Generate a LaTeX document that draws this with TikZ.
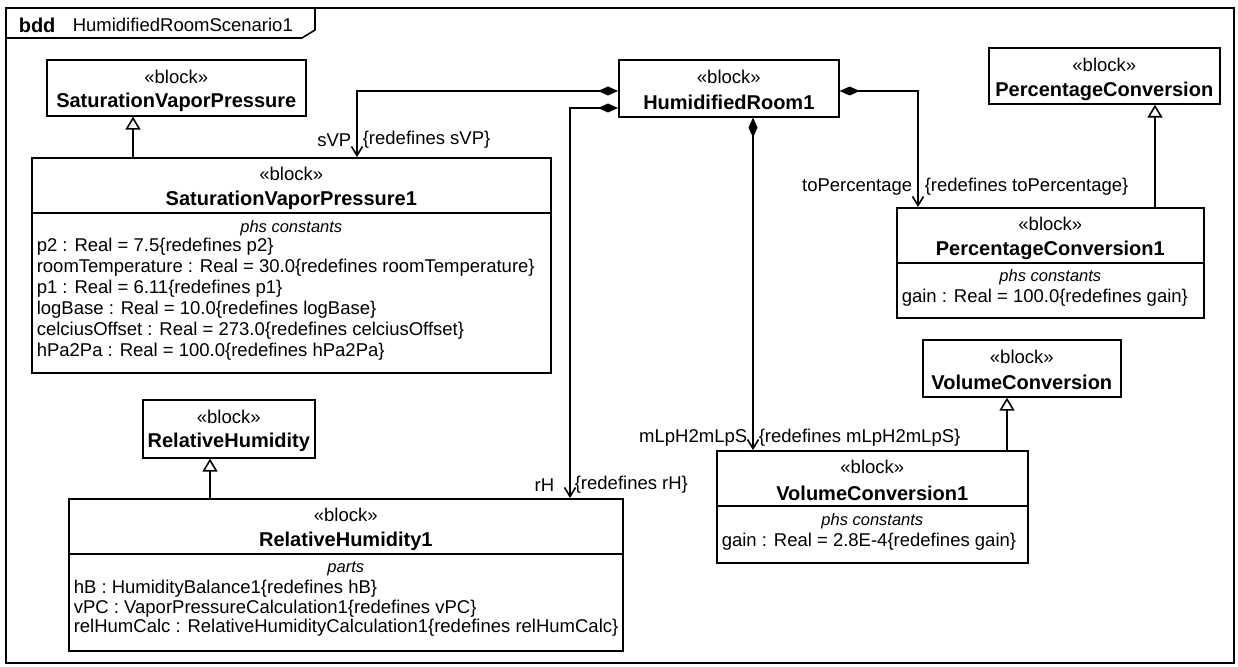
\documentclass[tikz,border=0pt]{standalone}
\usepackage{fontspec}
\setmainfont{Liberation Sans}
\usetikzlibrary{arrows.meta,calc}
\newcommand\ftreg{\fontsize{18.5}{19.5}\selectfont}
\newcommand\ftbold{\fontsize{20}{21}\selectfont\bfseries}
\newcommand\ftital{\fontsize{16.5}{17}\selectfont\itshape}
\begin{document}
\begin{tikzpicture}[x=1pt,y=-1pt,line width=1.6pt,
  box/.style={draw,line width=1.6pt,inner sep=0pt,anchor=north west},
  txt/.style={inner sep=0pt,font=\ftreg},
  nm/.style={inner sep=0pt,font=\ftbold},
  ctitle/.style={inner sep=0pt,font=\ftital},
  attr/.style={inner sep=0pt,font=\ftreg,anchor=west},
  comp/.style={{Diamond[length=20pt,width=9pt]}-{Straight Barb[length=9pt,width=11pt]}},
  gen/.style={-{Triangle[open,length=13pt,width=15pt,fill=white]}}]
\useasboundingbox (0,0) rectangle (1238,666);
% frame
\draw (6,8) rectangle (1234,663);
\draw (6,38) -- (302,38) -- (315,30) -- (315,8);
\node[nm,anchor=west] (fbdd) at (18,25) {bdd};
\node[txt,anchor=west] (fname) at (72,25) {HumidifiedRoomScenario1};

% SaturationVaporPressure
\node[box,minimum width=259pt,minimum height=56pt] (svp) at (46,59) {};
\node[txt] (svps) at ($(svp.north)+(0,18)$) {«block»};
\node[nm] (svpn) at ($(svp.north)+(0,43)$) {SaturationVaporPressure};

% SaturationVaporPressure1
\node[box,minimum width=519pt,minimum height=215pt] (svp1) at (31,157) {};
\node[txt] (svp1s) at ($(svp1.north)+(0,17)$) {«block»};
\node[nm] (svp1n) at ($(svp1.north)+(0,43)$) {SaturationVaporPressure1};
\draw (svp1.west |- 0,213) -- (svp1.east |- 0,213);
\node[ctitle] (svp1c) at ($(svp1.north)+(0,71)$) {phs constants};
\node[attr] (a1) at (36,247) {p2 : Real = 7.5\{redefines p2\}};
\node[attr] (a2) at (36,268) {roomTemperature : Real = 30.0\{redefines roomTemperature\}};
\node[attr] (a3) at (36,289) {p1 : Real = 6.11\{redefines p1\}};
\node[attr] (a4) at (36,310) {logBase : Real = 10.0\{redefines logBase\}};
\node[attr] (a5) at (36,331) {celciusOffset : Real = 273.0\{redefines celciusOffset\}};
\node[attr] (a6) at (36,352) {hPa2Pa : Real = 100.0\{redefines hPa2Pa\}};

% HumidifiedRoom1
\node[box,minimum width=220pt,minimum height=57pt] (hr) at (618,59) {};
\node[txt] (hrs) at ($(hr.north)+(0,18)$) {«block»};
\node[nm] (hrn) at ($(hr.north)+(0,43)$) {HumidifiedRoom1};

% PercentageConversion
\node[box,minimum width=231pt,minimum height=56pt] (pc) at (988,47) {};
\node[txt] (pcs) at ($(pc.north)+(0,18)$) {«block»};
\node[nm] (pcn) at ($(pc.north)+(0,44)$) {PercentageConversion};

% PercentageConversion1
\node[box,minimum width=307pt,minimum height=110pt] (pc1) at (896,207) {};
\node[txt] (pc1s) at ($(pc1.north)+(0,17)$) {«block»};
\node[nm] (pc1n) at ($(pc1.north)+(0,43)$) {PercentageConversion1};
\draw (pc1.west |- 0,263) -- (pc1.east |- 0,263);
\node[ctitle] (pc1c) at ($(pc1.north)+(0,70)$) {phs constants};
\node[attr] (pg) at (901,298) {gain : Real = 100.0\{redefines gain\}};

% VolumeConversion
\node[box,minimum width=198pt,minimum height=57pt] (vc) at (922,339) {};
\node[txt] (vcs) at ($(vc.north)+(0,18)$) {«block»};
\node[nm] (vcn) at ($(vc.north)+(0,43)$) {VolumeConversion};

% VolumeConversion1
\node[box,minimum width=311pt,minimum height=112pt] (vc1) at (716,450) {};
\node[txt] (vc1s) at ($(vc1.north)+(0,17)$) {«block»};
\node[nm] (vc1n) at ($(vc1.north)+(0,43)$) {VolumeConversion1};
\draw (vc1.west |- 0,506) -- (vc1.east |- 0,506);
\node[ctitle] (vc1c) at ($(vc1.north)+(0,71)$) {phs constants};
\node[attr] (vg) at (721,542) {gain : Real = 2.8E-4\{redefines gain\}};

% RelativeHumidity
\node[box,minimum width=172pt,minimum height=58pt] (rh) at (142,399) {};
\node[txt] (rhs) at ($(rh.north)+(0,18)$) {«block»};
\node[nm] (rhn) at ($(rh.north)+(0,43)$) {RelativeHumidity};

% RelativeHumidity1
\node[box,minimum width=554pt,minimum height=152pt] (rh1) at (68,498) {};
\node[txt] (rh1s) at ($(rh1.north)+(0,17)$) {«block»};
\node[nm] (rh1n) at ($(rh1.north)+(0,43)$) {RelativeHumidity1};
\draw (rh1.west |- 0,554) -- (rh1.east |- 0,554);
\node[ctitle] (rh1c) at ($(rh1.north)+(0,71)$) {parts};
\node[attr] (r1) at (73,589) {hB : HumidityBalance1\{redefines hB\}};
\node[attr] (r2) at (73,608.5) {vPC : VaporPressureCalculation1\{redefines vPC\}};
\node[attr] (r3) at (73,628) {relHumCalc : RelativeHumidityCalculation1\{redefines relHumCalc\}};

% compositions
\draw[comp] (hr.west |- 0,91) -| (svp1.north -| 357,0);
\draw[comp] (hr.west |- 0,108) -| (rh1.north -| 570,0);
\draw[comp] (hr.south -| 753,0) -- (vc1.north -| 753,0);
\draw[comp] (hr.east |- 0,91) -| (pc1.north -| 918,0);

% role labels
\node[txt,anchor=east] (l1) at (352,140) {sVP};
\node[txt,anchor=west] (l1r) at (362,140) {\{redefines sVP\}};
\node[txt,anchor=east] (l2) at (555,485) {rH};
\node[txt,anchor=west] (l2r) at (574,485) {\{redefines rH\}};
\node[txt,anchor=east] (l3) at (748,438) {mLpH2mLpS};
\node[txt,anchor=west] (l3r) at (758,438) {\{redefines mLpH2mLpS\}};
\node[txt,anchor=east] (l4) at (913,187) {toPercentage};
\node[txt,anchor=west] (l4r) at (924,187) {\{redefines toPercentage\}};

% generalizations
\draw[gen] (svp1.north -| 133,0) -- (svp.south -| 133,0);
\draw[gen] (pc1.north -| 1155,0) -- (pc.south -| 1155,0);
\draw[gen] (vc1.north -| 1007,0) -- (vc.south -| 1007,0);
\draw[gen] (rh1.north -| 210,0) -- (rh.south -| 210,0);
\end{tikzpicture}
\end{document}
